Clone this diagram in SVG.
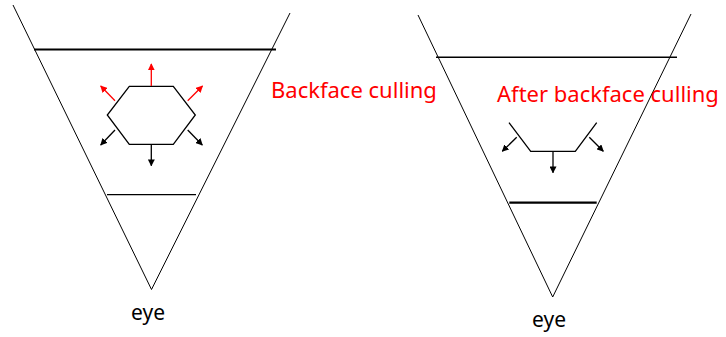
<svg xmlns="http://www.w3.org/2000/svg" width="726" height="337" viewBox="0 0 726 337">
  <style>
    .frustum { fill: none; stroke: #000; stroke-width: 1; }
    .plane { stroke: #000; }
    .poly { fill: none; stroke: #000; stroke-width: 1.3; }
    .n-red { stroke: #ff0000; stroke-width: 1.3; marker-end: url(#headRed); }
    .n-blk { stroke: #000; stroke-width: 1.3; marker-end: url(#headBlk); }
    .label { font-family: "Noto Sans", "Open Sans", sans-serif; font-size: 22px; fill: #ff0000; }
    .eye { font-family: "Noto Sans", "Open Sans", sans-serif; font-size: 21px; fill: #000; }
  </style>
  <defs>
    <marker id="headRed" viewBox="0 0 10 10" refX="9" refY="5" markerWidth="7" markerHeight="7" orient="auto" markerUnits="userSpaceOnUse">
      <path d="M0,0 L10,5 L0,10 z" fill="#ff0000"/>
    </marker>
    <marker id="headBlk" viewBox="0 0 10 10" refX="9" refY="5" markerWidth="7" markerHeight="7" orient="auto" markerUnits="userSpaceOnUse">
      <path d="M0,0 L10,5 L0,10 z" fill="#000"/>
    </marker>
  </defs>
  <rect width="726" height="337" fill="#fff"/>

  <!-- Left view volume: before culling -->
  <g id="frustum-left">
    <polyline class="frustum" points="13,5 151.5,289.5 290,13"/>
    <line class="plane" x1="34" y1="49.5" x2="276" y2="49.5" stroke-width="2.2"/>
    <line class="plane" x1="107" y1="194.7" x2="196" y2="194.7" stroke-width="1.2"/>
  </g>

  <g id="hexagon">
    <polygon class="poly" points="129.3,86.3 173.3,86.3 195.3,115 173.3,144.3 129.3,144.3 107.3,115"/>
  </g>

  <g id="connectors">
    <!-- face normals, left: red = back-facing, black = front-facing -->
    <line class="n-red" x1="151.3" y1="86" x2="151.3" y2="64"/>
    <line class="n-red" x1="115" y1="100.7" x2="100.7" y2="86"/>
    <line class="n-red" x1="187.7" y1="100.7" x2="202.5" y2="86"/>
    <line class="n-blk" x1="115" y1="130" x2="100.7" y2="145"/>
    <line class="n-blk" x1="187.7" y1="130" x2="202.3" y2="145"/>
    <line class="n-blk" x1="151.3" y1="144.3" x2="151.3" y2="165.7"/>
    <!-- face normals, right: only front-facing remain -->
    <line class="n-blk" x1="516.7" y1="137.3" x2="502.3" y2="151.3"/>
    <line class="n-blk" x1="589.3" y1="137.3" x2="603.3" y2="151.3"/>
    <line class="n-blk" x1="553" y1="151.3" x2="553" y2="172.7"/>
  </g>

  <text id="label-left" class="label" x="271" y="98">Backface culling</text>

  <!-- Right view volume: after culling -->
  <g id="frustum-right">
    <polyline class="frustum" points="418,15 552.7,297 691,14"/>
    <line class="plane" x1="436" y1="57.3" x2="677" y2="57.3" stroke-width="1.6"/>
    <line class="plane" x1="509.3" y1="202.7" x2="596.7" y2="202.7" stroke-width="2.2"/>
  </g>

  <g id="culled-polygon">
    <polyline class="poly" points="509,122.7 530.7,151.3 575.3,151.3 596.7,122.7"/>
  </g>

  <text id="label-right" class="label" x="497" y="101.5">After backface culling</text>

  <text id="eye-left" class="eye" x="131" y="320">eye</text>
  <text id="eye-right" class="eye" x="532" y="327">eye</text>
</svg>
